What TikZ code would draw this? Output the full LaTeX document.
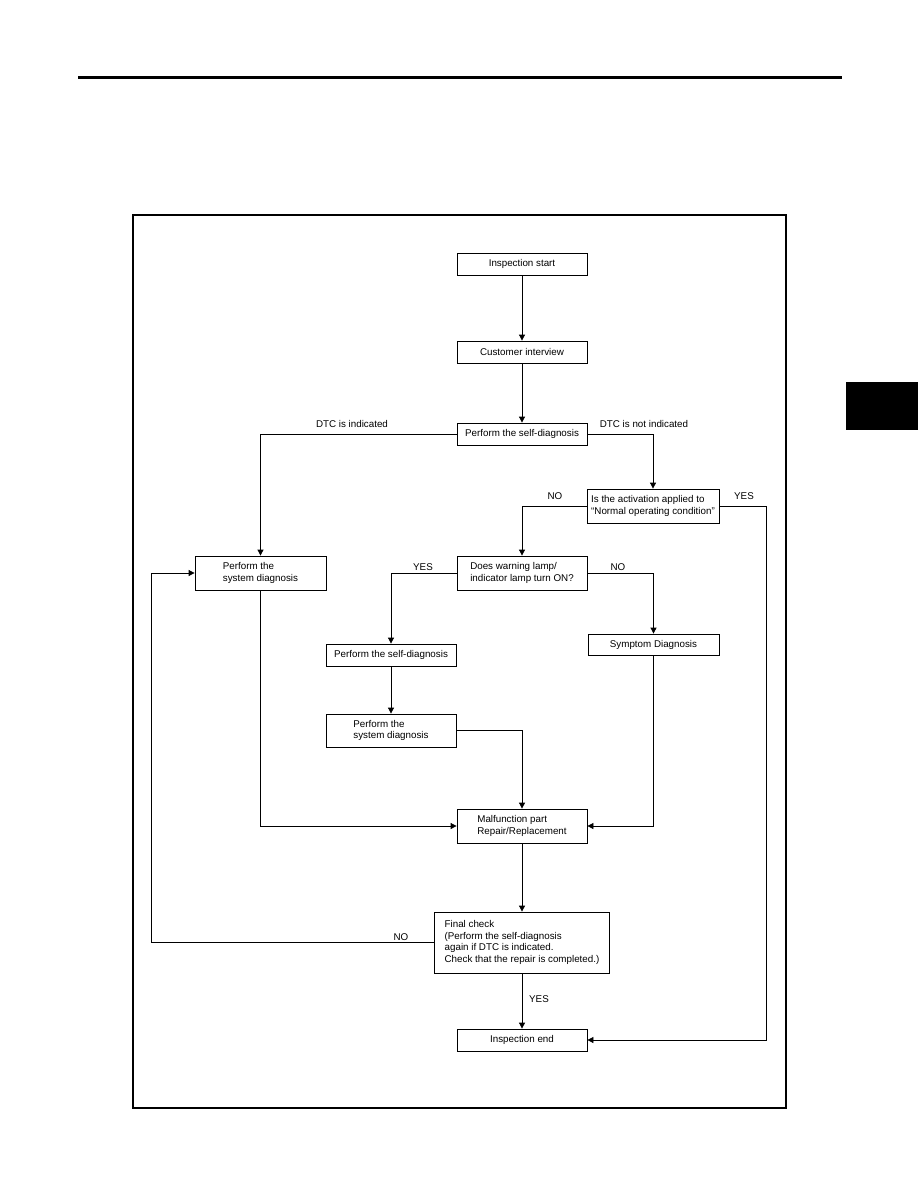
\documentclass[tikz,border=0pt]{standalone}
\usepackage{fontspec}
\setmainfont{Liberation Sans}
\usetikzlibrary{arrows.meta}
\begin{document}
\begin{tikzpicture}[x=1pt,y=-1pt,
  box/.style={draw,line width=0.8pt,inner sep=0pt,align=left,font=\fontsize{9.8}{11.5}\selectfont},
  lbl/.style={inner sep=0pt,font=\fontsize{9.8}{11.5}\selectfont},
  conn/.style={line width=0.8pt,-{Triangle[length=6pt,width=6pt]}},
  plain/.style={line width=0.8pt}]
\useasboundingbox (0,0) rectangle (918,1188);
\draw[line width=3pt] (78,78) -- (842,78);
\fill (846,382) rectangle (918,430);
\draw[line width=2pt] (133,215) rectangle (786,1108);

\node[box,minimum width=130pt,minimum height=22pt] (st) at (522,264) {Inspection start};
\node[box,minimum width=130pt,minimum height=22pt] (ci) at (522,352) {Customer interview};
\node[box,minimum width=130pt,minimum height=22pt] (sd) at (522,434) {Perform the self-diagnosis};
\node[box,minimum width=132pt,minimum height=34pt] (act) at (653,506) {Is the activation applied to\\``Normal operating condition''};
\node[box,minimum width=131pt,minimum height=34pt] (sys1) at (260.5,573) {Perform the\\system diagnosis};
\node[box,minimum width=130pt,minimum height=34pt] (warn) at (522,573) {Does warning lamp/\\indicator lamp turn ON?};
\node[box,minimum width=131pt,minimum height=21pt] (sym) at (653.5,644.5) {Symptom Diagnosis};
\node[box,minimum width=130pt,minimum height=22pt] (sd2) at (391,655) {Perform the self-diagnosis};
\node[box,minimum width=130pt,minimum height=33pt] (sys2) at (391,730.5) {Perform the\\system diagnosis};
\node[box,minimum width=130pt,minimum height=34pt] (mal) at (522,826) {Malfunction part\\Repair/Replacement};
\node[box,minimum width=175pt,minimum height=61pt] (fin) at (522,942.5) {Final check\\(Perform the self-diagnosis\\again if DTC is indicated.\\Check that the repair is completed.)};
\node[box,minimum width=130pt,minimum height=22pt] (end) at (522,1040) {Inspection end};

\coordinate (yesR) at (766,506);
\coordinate (noL) at (151,942.5);

\draw[conn] (st) -- (ci);
\draw[conn] (ci) -- (sd);
\draw[conn] (sd.west) -| (sys1.north);
\draw[conn] (sd.east) -| (act.north);
\draw[conn] (act.west) -| (warn.north);
\draw[plain] (act.east) -- (yesR);
\draw[conn] (yesR) |- (end.east);
\draw[conn] (warn.west) -| (sd2.north);
\draw[conn] (warn.east) -| (sym.north);
\draw[conn] (sd2) -- (sys2);
\draw[conn] (sys2.east) -| (mal.north);
\draw[conn] (sys1.south) |- (mal.west);
\draw[conn] (sym.south) |- (mal.east);
\draw[conn] (mal) -- (fin);
\draw[plain] (fin.west) -- (noL);
\draw[conn] (noL) |- (sys1.west);
\draw[conn] (fin) -- (end);

\node[lbl] (l1) at (352,424) {DTC is indicated};
\node[lbl] (l2) at (644,424) {DTC is not indicated};
\node[lbl] (l3) at (555,496) {NO};
\node[lbl] (l4) at (744,496) {YES};
\node[lbl] (l5) at (423,567) {YES};
\node[lbl] (l6) at (618,567) {NO};
\node[lbl] (l7) at (401,937) {NO};
\node[lbl] (l8) at (539,999) {YES};
\end{tikzpicture}
\end{document}
